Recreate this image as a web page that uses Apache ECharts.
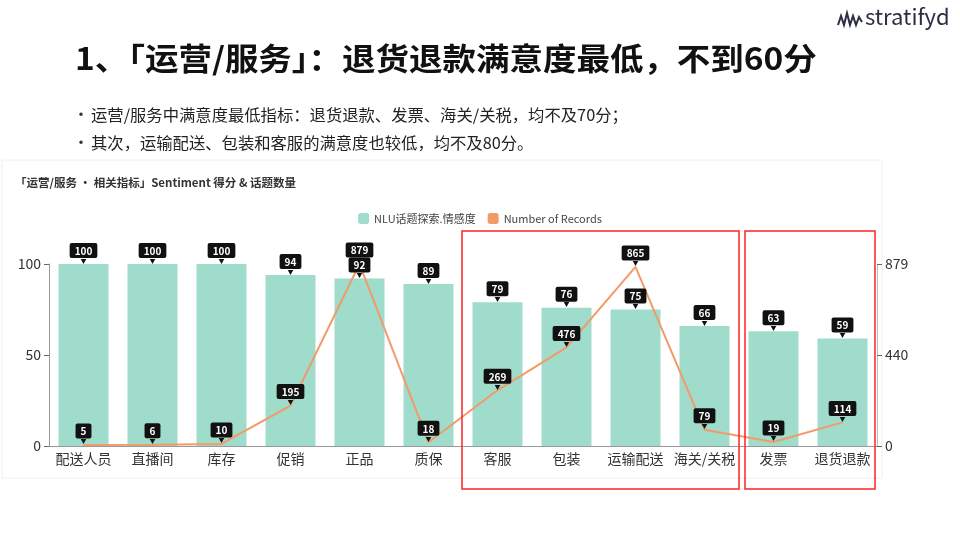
<!DOCTYPE html>
<html>
<head>
<meta charset="utf-8">
<script src="https://cdn.jsdelivr.net/npm/echarts@6/dist/echarts.min.js"></script>
<style>
  html, body { margin: 0; padding: 0; background: #fff; }
  #chart { width: 960px; height: 540px; }
</style>
</head>
<body>
<div id="chart"></div>
<script>
// categories and values
var categories = ["配送人员", "直播间", "库存", "促销", "正品", "质保", "客服", "包装", "运输配送", "海关/关税", "发票", "退货退款"];
var sentimentScores = [100, 100, 100, 94, 92, 89, 79, 76, 75, 66, 63, 59];
var recordCounts = [5, 6, 10, 195, 879, 18, 269, 476, 865, 79, 19, 114];
var rightMax = 879;

var cjk = '"Noto Sans CJK SC", "Noto Sans", sans-serif';

// black value tag with a small pointer underneath
var tagLabel = {
  show: true,
  position: "top",
  distance: 1,
  fontFamily: cjk,
  formatter: function (p) { return "{b|" + p.value + "}\n{a|▼}"; },
  rich: {
    b: {
      color: "#fff",
      fontSize: 10,
      fontWeight: "bold",
      backgroundColor: "#111",
      padding: [3, 5, 2, 5],
      borderRadius: 2,
      align: "center"
    },
    a: {
      color: "#111",
      fontSize: 6,
      lineHeight: 5,
      align: "center"
    }
  }
};

var chart = echarts.init(document.getElementById("chart"));
chart.setOption({
  animation: false,
  textStyle: { fontFamily: cjk },
  legend: {
    top: 208,
    left: "center",
    itemWidth: 11,
    itemHeight: 11,
    itemGap: 12,
    icon: "roundRect",
    textStyle: { fontSize: 11, color: "#444" },
    data: ["NLU话题探索.情感度", "Number of Records"]
  },
  grid: { left: 49, right: 83, top: 264, bottom: 94 },
  xAxis: {
    type: "category",
    data: categories,
    axisLine: { lineStyle: { color: "#999" } },
    axisTick: { alignWithLabel: true, lineStyle: { color: "#666" } },
    axisLabel: { color: "#333", fontSize: 14, margin: 6, interval: 0 }
  },
  yAxis: [
    {
      type: "value",
      min: 0,
      max: 100,
      interval: 50,
      axisLine: { show: true, lineStyle: { color: "#999" } },
      axisTick: { show: true, lineStyle: { color: "#666" } },
      splitLine: { show: false },
      axisLabel: { color: "#333", fontSize: 14 }
    },
    {
      type: "value",
      min: 0,
      max: rightMax,
      interval: rightMax / 2,
      axisLine: { show: true, lineStyle: { color: "#bbb" } },
      axisTick: { show: true, lineStyle: { color: "#666" } },
      splitLine: { show: false },
      axisLabel: {
        color: "#333",
        fontSize: 14,
        formatter: function (v) { return Math.round(v); }
      }
    }
  ],
  series: [
    {
      name: "NLU话题探索.情感度",
      type: "bar",
      data: sentimentScores,
      barWidth: 50,
      itemStyle: { color: "#9fdccb" },
      z: 1
    },
    {
      name: "Number of Records",
      type: "line",
      yAxisIndex: 1,
      data: recordCounts,
      symbol: "circle",
      symbolSize: 1,
      itemStyle: { color: "#f29a68" },
      lineStyle: { color: "#f29a68", width: 2 },
      label: tagLabel,
      z: 3
    },
    // transparent copy of the bars so their value tags sit above the line
    {
      name: "scoreTags",
      type: "bar",
      data: sentimentScores,
      barWidth: 50,
      barGap: "-100%",
      itemStyle: { color: "rgba(0,0,0,0)" },
      label: tagLabel,
      silent: true,
      z: 5
    }
  ],
  graphic: [
    // slide header
    {
      type: "text", x: 75, y: 43, scaleX: 1.08,
      style: { text: "1、「运营/服务」：退货退款满意度最低，不到60分", font: "bold 31px " + cjk, fill: "#111", verticalAlign: "top" }
    },
    {
      type: "text", left: 73, top: 106,
      style: { text: "•", font: "16px " + cjk, fill: "#333" }
    },
    {
      type: "text", x: 91, y: 107, scaleX: 1.02,
      style: { text: "运营/服务中满意度最低指标：退货退款、发票、海关/关税，均不及70分；", font: "16px " + cjk, fill: "#222", verticalAlign: "top" }
    },
    {
      type: "text", left: 73, top: 134,
      style: { text: "•", font: "16px " + cjk, fill: "#333" }
    },
    {
      type: "text", x: 91, y: 135, scaleX: 1.02,
      style: { text: "其次，运输配送、包装和客服的满意度也较低，均不及80分。", font: "16px " + cjk, fill: "#222", verticalAlign: "top" }
    },
    // logo
    {
      type: "text", left: 865, top: 6,
      style: { text: "stratifyd", font: "22px " + cjk, fill: "#2b2d42" }
    },
    {
      type: "polyline",
      shape: { points: [[838, 25], [841, 16], [844, 25], [847, 13], [850, 25], [853, 16], [856, 25], [859, 17], [862, 22]] },
      style: { stroke: "#2b2d42", lineWidth: 2, fill: null }
    },
    // chart card
    {
      type: "rect", shape: { x: 2, y: 160, width: 880, height: 318 },
      style: { fill: null, stroke: "#eee", lineWidth: 1 }, z: -1
    },
    {
      type: "text", left: 15, top: 177,
      style: { text: "「运营/服务 · 相关指标」Sentiment 得分 & 话题数量", font: "bold 11.5px " + cjk, fill: "#333" }
    },
    // red highlight boxes
    {
      type: "rect", shape: { x: 462, y: 231, width: 277, height: 258 },
      style: { fill: null, stroke: "#f22", lineWidth: 1.5 }, z: 10
    },
    {
      type: "rect", shape: { x: 745, y: 231, width: 130, height: 258 },
      style: { fill: null, stroke: "#f22", lineWidth: 1.5 }, z: 10
    }
  ]
});
</script>
</body>
</html>
